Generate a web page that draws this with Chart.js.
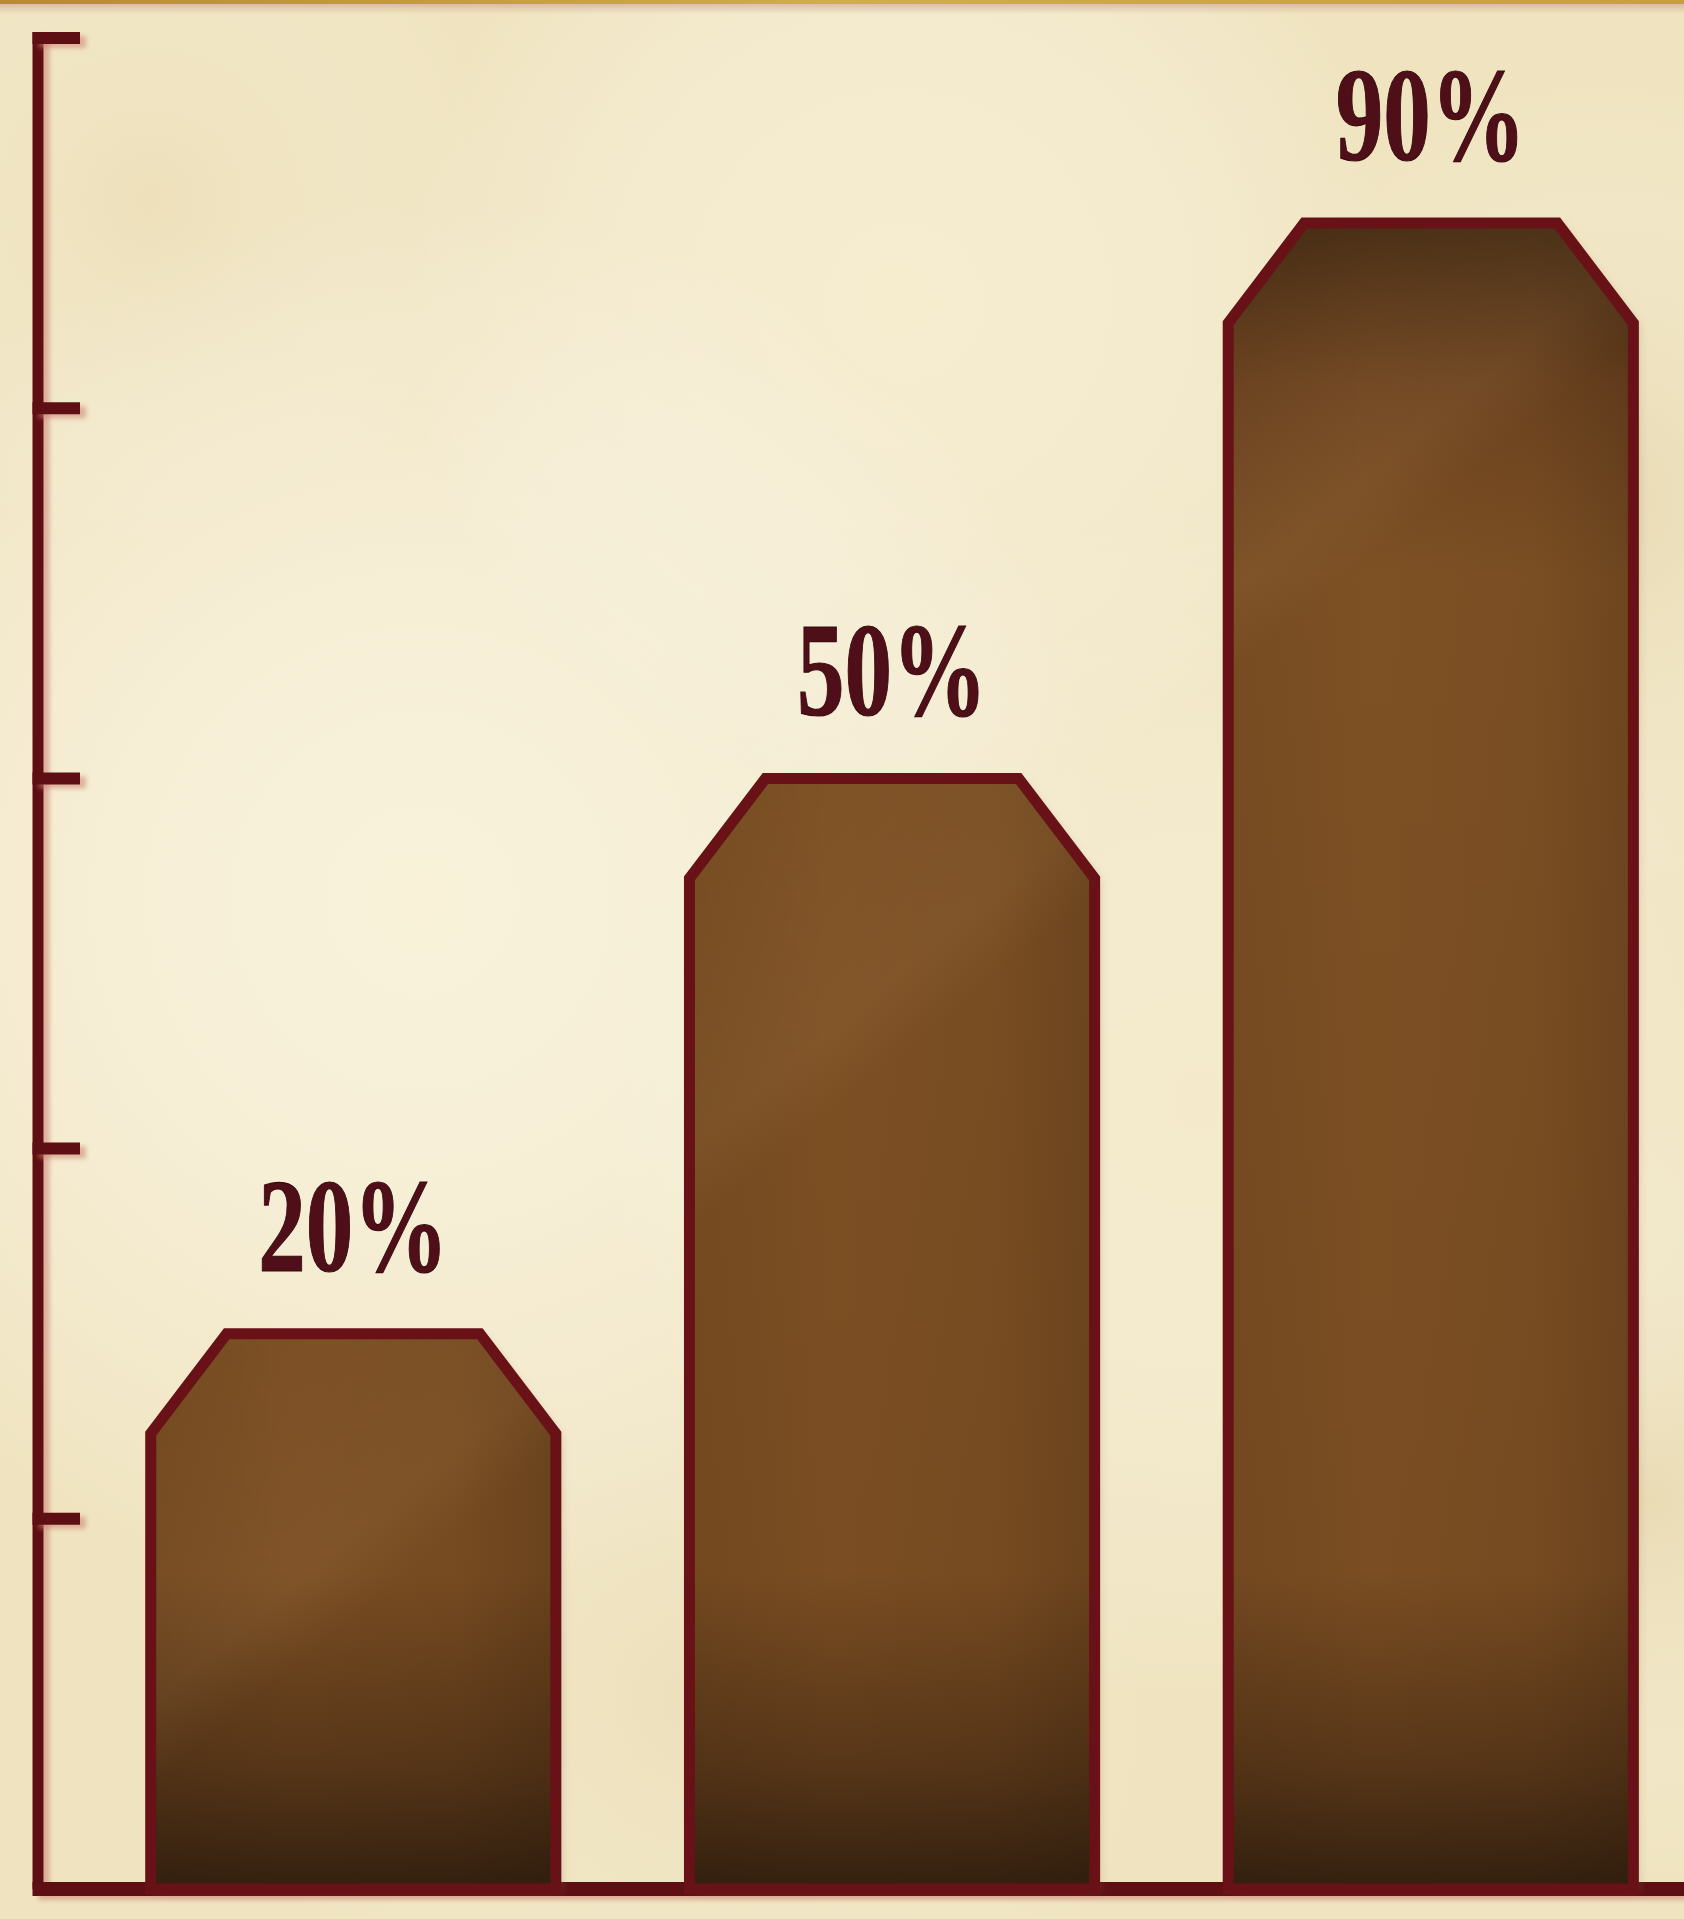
<!DOCTYPE html>
<html>
<head>
<meta charset="utf-8">
<script src="https://cdn.jsdelivr.net/npm/chart.js@4.4.1/dist/chart.umd.min.js"></script>
<style>
  html, body { margin: 0; padding: 0; width: 1684px; height: 1919px; overflow: hidden; background: #f3e8c8; }
  #wrap { position: relative; width: 1684px; height: 1919px; }
  canvas { display: block; }
</style>
</head>
<body>
<div id="wrap"><canvas id="chart" width="1684" height="1919"></canvas></div>
<script>
// ---- data ----
const categories    = ["Bar 1", "Bar 2", "Bar 3"];
const barHeights    = [30, 60, 90];          // bar tops measured against the axis (0–100)
const percentLabels = ["20%", "50%", "90%"]; // printed value labels
const yTickValues   = [0, 20, 40, 60, 80, 100];
const yMin = 0, yMax = 100;

// ---- styles ----
const AXIS_COLOR   = "#5e0f13";
const BORDER_COLOR = "#681217";
const LABEL_FILL   = "#4f0f18";
const LABEL_STROKE = "#3a0a10";

const parchment = {
  id: "parchment",
  beforeDraw(chart) {
    const { ctx, width, height } = chart;
    ctx.save();
    ctx.fillStyle = "#f0e4c0";
    ctx.fillRect(0, 0, width, height);
    const spots = [
      [420, 900, 700, "rgba(251,245,222,0.85)"],
      [900, 300, 500, "rgba(248,240,212,0.7)"],
      [1200, 1100, 600, "rgba(247,238,210,0.6)"],
      [1600, 500, 420, "rgba(222,205,160,0.45)"],
      [1650, 1500, 380, "rgba(225,208,165,0.45)"],
      [700, 1700, 450, "rgba(230,215,175,0.35)"],
      [150, 200, 350, "rgba(232,216,175,0.35)"]
    ];
    spots.forEach(([x, y, r, c]) => {
      const g = ctx.createRadialGradient(x, y, 0, x, y, r);
      g.addColorStop(0, c);
      g.addColorStop(1, "rgba(255,255,255,0)");
      ctx.fillStyle = g;
      ctx.fillRect(0, 0, width, height);
    });
    const gb = ctx.createLinearGradient(0, 0, width, 0);
    gb.addColorStop(0, "#b98a2c");
    gb.addColorStop(0.5, "#d2ad48");
    gb.addColorStop(1, "#c99f3c");
    ctx.fillStyle = gb;
    ctx.fillRect(0, 0, width, 4);
    const sh = ctx.createLinearGradient(0, 4, 0, 14);
    sh.addColorStop(0, "rgba(190,140,115,0.45)");
    sh.addColorStop(1, "rgba(190,140,115,0)");
    ctx.fillStyle = sh;
    ctx.fillRect(0, 4, width, 10);
    ctx.restore();
  }
};

const axes = {
  id: "axes",
  beforeDatasetsDraw(chart) {
    const { ctx, chartArea } = chart;
    const y = chart.scales.y;
    const x0 = chartArea.left;
    const yTop = y.getPixelForValue(yMax);
    const yBot = y.getPixelForValue(yMin);
    ctx.save();
    ctx.strokeStyle = AXIS_COLOR;
    ctx.lineCap = "butt";
    ctx.shadowColor = "rgba(205,130,115,0.55)";
    ctx.shadowBlur = 4;
    ctx.shadowOffsetX = 6;
    ctx.shadowOffsetY = 4;
    ctx.lineWidth = 11;
    ctx.beginPath();
    ctx.moveTo(x0, yTop - 6);
    ctx.lineTo(x0, yBot);
    ctx.stroke();
    ctx.lineWidth = 12;
    yTickValues.forEach(v => {
      if (v === yMin) return;
      const py = y.getPixelForValue(v);
      ctx.beginPath();
      ctx.moveTo(x0 - 5.5, py);
      ctx.lineTo(x0 + 42, py);
      ctx.stroke();
    });
    ctx.lineWidth = 14;
    ctx.beginPath();
    ctx.moveTo(x0 - 5.5, yBot);
    ctx.lineTo(chart.width, yBot);
    ctx.stroke();
    ctx.restore();
  }
};

const chamferBars = {
  id: "chamferBars",
  beforeDatasetDraw(chart, args) {
    const { ctx } = chart;
    const meta = args.meta;
    const H = chart.height;
    const fill = ctx.createLinearGradient(0, 0, 0, H);
    fill.addColorStop(0.00, "#3a2410");
    fill.addColorStop(0.105, "#422912");
    fill.addColorStop(0.20, "#6e4420");
    fill.addColorStop(0.30, "#7e5124");
    fill.addColorStop(0.82, "#7a4d22");
    fill.addColorStop(0.92, "#573618");
    fill.addColorStop(0.985, "#33200f");
    fill.addColorStop(1.00, "#33200f");
    meta.data.forEach((el) => {
      const { x, y, base, width } = el.getProps(["x", "y", "base", "width"], true);
      const l = x - width / 2, r = x + width / 2;
      const cx = 76, cy = 100;
      const path = () => {
        ctx.beginPath();
        ctx.moveTo(l, base);
        ctx.lineTo(l, y + cy);
        ctx.lineTo(l + cx, y);
        ctx.lineTo(r - cx, y);
        ctx.lineTo(r, y + cy);
        ctx.lineTo(r, base);
        ctx.closePath();
      };
      ctx.save();
      ctx.shadowColor = "rgba(170,100,80,0.35)";
      ctx.shadowBlur = 10;
      ctx.shadowOffsetX = 5;
      ctx.shadowOffsetY = 3;
      path();
      ctx.fillStyle = fill;
      ctx.fill();
      ctx.restore();
      ctx.save();
      path();
      ctx.clip();
      const hs = ctx.createLinearGradient(l, 0, r, 0);
      hs.addColorStop(0, "rgba(30,15,5,0.08)");
      hs.addColorStop(0.35, "rgba(30,15,5,0)");
      hs.addColorStop(0.75, "rgba(30,15,5,0.04)");
      hs.addColorStop(1, "rgba(30,15,5,0.18)");
      ctx.fillStyle = hs;
      ctx.fillRect(l, y, width, base - y);
      const ds = ctx.createLinearGradient(l, y, r, y + width * 1.2);
      ds.addColorStop(0, "rgba(255,220,160,0)");
      ds.addColorStop(0.45, "rgba(255,220,160,0.05)");
      ds.addColorStop(0.55, "rgba(255,220,160,0)");
      ds.addColorStop(1, "rgba(255,220,160,0)");
      ctx.fillStyle = ds;
      ctx.fillRect(l, y, width, base - y);
      ctx.restore();
      ctx.save();
      path();
      ctx.lineWidth = 11;
      ctx.lineJoin = "miter";
      ctx.strokeStyle = BORDER_COLOR;
      ctx.stroke();
      ctx.restore();
    });
    return false;
  }
};

const valueLabels = {
  id: "valueLabels",
  afterDatasetsDraw(chart) {
    const { ctx } = chart;
    const meta = chart.getDatasetMeta(0);
    ctx.save();
    ctx.font = "bold 134px 'Liberation Serif', 'DejaVu Serif', serif";
    ctx.textAlign = "center";
    ctx.textBaseline = "alphabetic";
    meta.data.forEach((el, i) => {
      const { x, y } = el.getProps(["x", "y"], true);
      const txt = percentLabels[i];
      const w = ctx.measureText(txt).width;
      const sx = 190 / w;
      const by = y - 5 - 58;
      ctx.save();
      ctx.translate(x, by);
      ctx.scale(sx, 1);
      ctx.lineWidth = 1.2;
      ctx.strokeStyle = LABEL_STROKE;
      ctx.fillStyle = LABEL_FILL;
      ctx.fillText(txt, 0, 0);
      ctx.strokeText(txt, 0, 0);
      ctx.restore();
    });
    ctx.restore();
  }
};

new Chart(document.getElementById("chart"), {
  type: "bar",
  data: {
    datasets: [{
      label: "Value",
      data: barHeights.map((v, i) => ({ x: i, y: v, name: categories[i] })),
      backgroundColor: "#7d5023",
      borderColor: BORDER_COLOR,
      borderWidth: 10,
      barPercentage: 0.752,
      categoryPercentage: 1.0
    }]
  },
  options: {
    responsive: false,
    devicePixelRatio: 1,
    animation: false,
    layout: { padding: { left: 38, top: 38, right: 0, bottom: 30 } },
    plugins: { legend: { display: false }, tooltip: { enabled: false } },
    scales: {
      x: { type: "linear", min: -0.5852, max: 2.470, display: false, offset: false,
           grid: { offset: false },
           ticks: { stepSize: 1, includeBounds: false } },
      y: { min: yMin, max: yMax, display: false, ticks: { stepSize: 20 } }
    }
  },
  plugins: [parchment, axes, chamferBars, valueLabels]
});
</script>
</body>
</html>
